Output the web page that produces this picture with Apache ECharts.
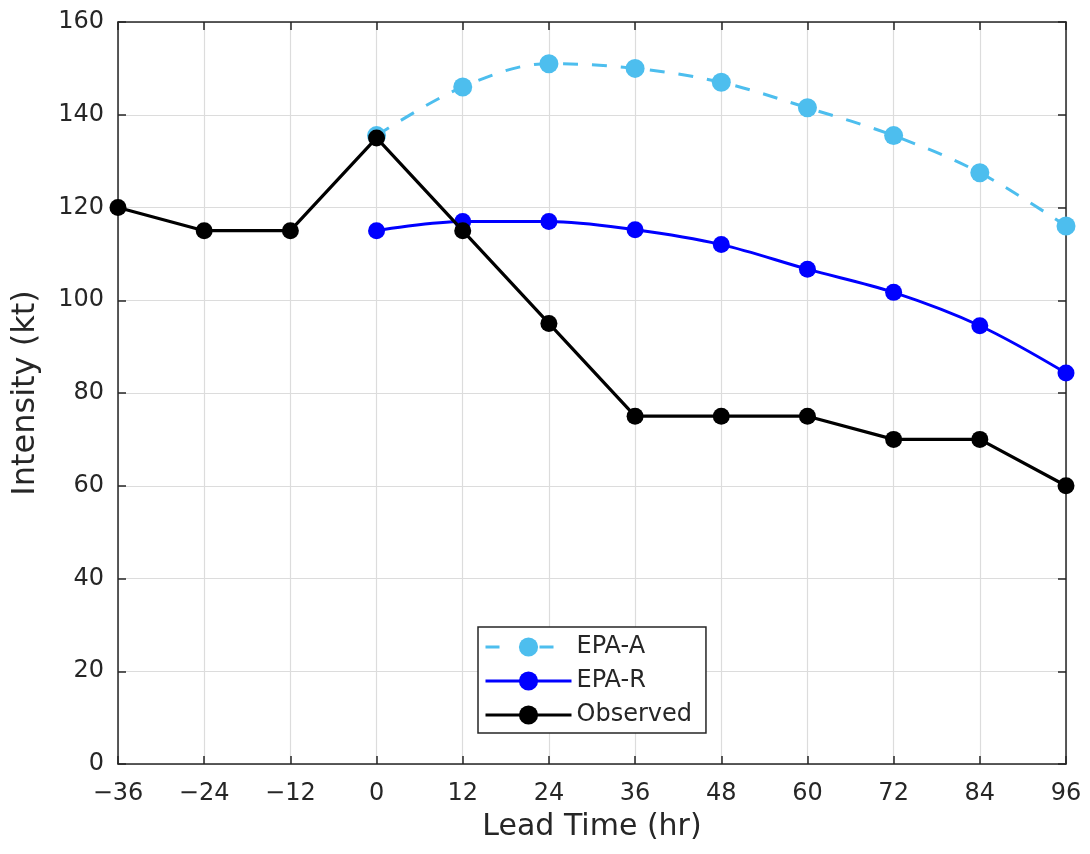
<!DOCTYPE html>
<html>
<head>
<meta charset="utf-8">
<script src="https://cdn.jsdelivr.net/npm/echarts@6/dist/echarts.min.js"></script>
<style>
html,body{margin:0;padding:0;background:#fff;}
#chart{width:1090px;height:854px;}
</style>
</head>
<body>
<div id="chart"></div>
<script>
const leadTimes = [-36, -24, -12, 0, 12, 24, 36, 48, 60, 72, 84, 96];
const forecastTimes = [0, 12, 24, 36, 48, 60, 72, 84, 96];
const observed = [120, 115, 115, 135, 115, 95, 75, 75, 75, 70, 70, 60];
const epaA = [135.5, 146, 151, 150, 147, 141.5, 135.5, 127.5, 116];
const epaR = [115, 117, 117, 115.2, 112, 106.7, 101.7, 94.5, 84.3];
const xTicks = [-36, -24, -12, 0, 12, 24, 36, 48, 60, 72, 84, 96];
const yTicks = [0, 20, 40, 60, 80, 100, 120, 140, 160];

const zip = (xs, ys) => xs.map((x, i) => [x, ys[i]]);
const textColor = '#262626';
const font = 'DejaVu Sans';

const chart = echarts.init(document.getElementById('chart'), null, {renderer: 'canvas'});
const baseX = {
  type: 'value', min: xTicks[0], max: xTicks[xTicks.length - 1], interval: 12,
  axisLine: {show: true, onZero: false, lineStyle: {color: textColor, width: 1.5}},
  axisTick: {show: true, inside: true, length: 8, lineStyle: {color: textColor, width: 1.5}},
  splitLine: {show: true, lineStyle: {color: '#dcdcdc', width: 1.2}}
};
const baseY = {
  type: 'value', min: yTicks[0], max: yTicks[yTicks.length - 1], interval: 20,
  axisLine: {show: true, onZero: false, lineStyle: {color: textColor, width: 1.5}},
  axisTick: {show: true, inside: true, length: 8, lineStyle: {color: textColor, width: 1.5}},
  splitLine: {show: true, lineStyle: {color: '#dcdcdc', width: 1.2}}
};
chart.setOption({
  animation: false,
  backgroundColor: '#fff',
  grid: {left: 118, right: 24, top: 22, bottom: 90, containLabel: false},
  xAxis: [
    Object.assign({}, baseX, {
      position: 'bottom',
      name: 'Lead Time (hr)', nameLocation: 'middle', nameGap: 48,
      nameTextStyle: {color: textColor, fontFamily: font, fontSize: 30},
      axisLabel: {color: textColor, fontFamily: font, fontSize: 24, margin: 18,
        formatter: v => (v < 0 ? '\u2212' + Math.abs(v) : String(v))}
    }),
    Object.assign({}, baseX, {position: 'top', axisLabel: {show: false}, splitLine: {show: false}})
  ],
  yAxis: [
    Object.assign({}, baseY, {
      position: 'left',
      name: 'Intensity (kt)', nameLocation: 'middle', nameGap: 76,
      nameTextStyle: {color: textColor, fontFamily: font, fontSize: 32},
      axisLabel: {color: textColor, fontFamily: font, fontSize: 24, margin: 14}
    }),
    Object.assign({}, baseY, {position: 'right', axisLabel: {show: false}, splitLine: {show: false}})
  ],
  legend: {
    orient: 'vertical', left: 478, top: 627,
    backgroundColor: '#fff', borderColor: textColor, borderWidth: 1.5,
    padding: [8, 14, 6, 6], itemGap: 10, itemWidth: 86, itemHeight: 24,
    textStyle: {color: textColor, fontFamily: font, fontSize: 24, padding: [0, 0, 0, 0]},
    data: [
      {name: 'EPA-A', lineStyle: {width: 3, type: [14, 40]}},
      {name: 'EPA-R', lineStyle: {width: 3}},
      {name: 'Observed', lineStyle: {width: 3}}
    ]
  },
  series: [
    {
      name: 'EPA-A', type: 'line', data: zip(forecastTimes, epaA), smooth: 0.35,
      symbol: 'circle', symbolSize: 19,
      lineStyle: {color: '#4DBEEE', width: 3, type: [15, 14]},
      itemStyle: {color: '#4DBEEE'}, z: 2
    },
    {
      name: 'EPA-R', type: 'line', data: zip(forecastTimes, epaR), smooth: 0.35,
      symbol: 'circle', symbolSize: 17,
      lineStyle: {color: '#0000FF', width: 3},
      itemStyle: {color: '#0000FF'}, z: 3
    },
    {
      name: 'Observed', type: 'line', data: zip(leadTimes, observed),
      symbol: 'circle', symbolSize: 17,
      lineStyle: {color: '#000000', width: 3.2},
      itemStyle: {color: '#000000'}, z: 4
    }
  ]
});
</script>
</body>
</html>
